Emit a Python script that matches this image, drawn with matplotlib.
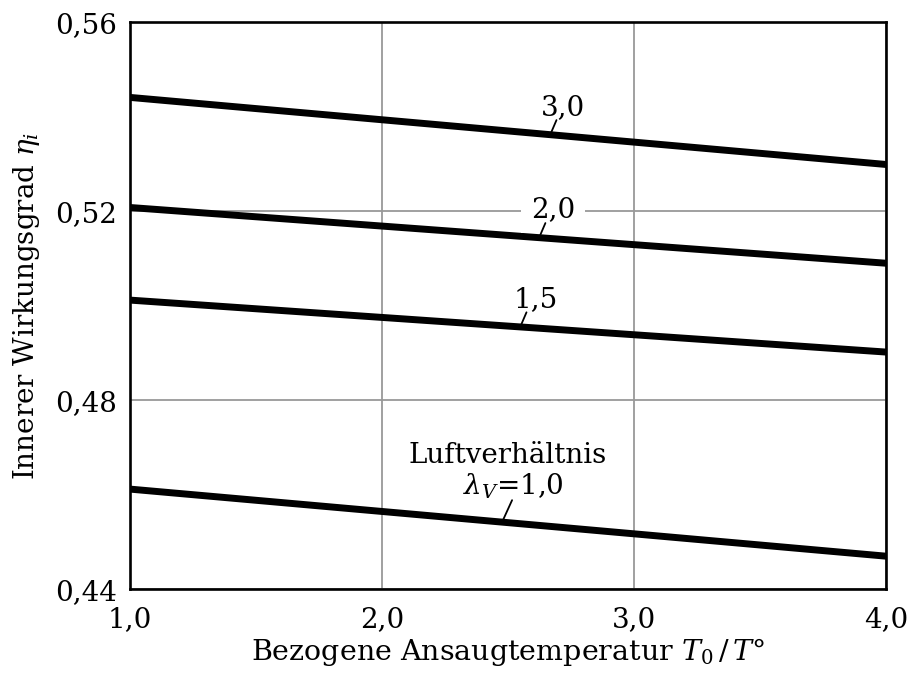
import numpy as np
import matplotlib.pyplot as plt

plt.rcParams['font.family'] = ['DejaVu Serif']
plt.rcParams['mathtext.fontset'] = 'dejavuserif'
plt.rcParams['axes.formatter.use_mathtext'] = True

# Bezogene Ansaugtemperatur T0/T° (Endpunkte der Geraden)
t_ratio = [1.0, 4.0]

# Innerer Wirkungsgrad je Luftverhältnis
eta_lam10 = [0.4612, 0.4470]
eta_lam15 = [0.5012, 0.4902]
eta_lam20 = [0.5208, 0.5090]
eta_lam30 = [0.5441, 0.5299]

x_ticks = [1.0, 2.0, 3.0, 4.0]
x_ticklabels = ['1,0', '2,0', '3,0', '4,0']
y_ticks = [0.44, 0.48, 0.52, 0.56]
y_ticklabels = ['0,44', '0,48', '0,52', '0,56']

fig = plt.figure(figsize=(9.09, 6.75), dpi=100)
ax = fig.add_axes([0.143, 0.127, 0.832, 0.840])

curves = [eta_lam10, eta_lam15, eta_lam20, eta_lam30]
for eta in curves:
    ax.plot(t_ratio, eta, color='black', lw=5.0, solid_capstyle='butt', zorder=3)

ax.set_xlim(1.0, 4.0)
ax.set_ylim(0.44, 0.56)
ax.set_xticks(x_ticks)
ax.set_xticklabels(x_ticklabels)
ax.set_yticks(y_ticks)
ax.set_yticklabels(y_ticklabels)
ax.tick_params(axis='x', length=0, pad=12, labelsize=20)
ax.tick_params(axis='y', length=0, pad=9, labelsize=20)
ax.grid(True, color='#999999', lw=1.3, zorder=1)
for sp in ax.spines.values():
    sp.set_linewidth(1.9)
    sp.set_zorder(4)

ax.set_xlabel(r'Bezogene Ansaugtemperatur $T_0\,/\,T$°', fontsize=20.5, labelpad=2)
ax.set_ylabel(r'Innerer Wirkungsgrad $\eta_i$', fontsize=20, labelpad=10)


def label_curve(eta, x0, text, dx, dy, lead, white=False):
    # kleiner Hinweisstrich von der Kurve zur Beschriftung
    y0 = np.interp(x0, t_ratio, eta)
    ax.annotate('', xy=(x0, y0), xytext=lead, textcoords='offset points',
                arrowprops=dict(arrowstyle='-', lw=1.3, color='black',
                                shrinkA=0, shrinkB=0), zorder=7)
    kw = {}
    if white:
        kw['bbox'] = dict(boxstyle='square,pad=0.35', fc='white', ec='none')
    ax.annotate(text, xy=(x0, y0), xytext=(dx, dy), textcoords='offset points',
                ha='center', va='baseline', fontsize=20, zorder=6, **kw)
    return y0


label_curve(eta_lam30, 2.667, '3,0', 9.4, 14.0, (4.5, 10.5))
label_curve(eta_lam20, 2.623, '2,0', 10.0, 14.6, (4.5, 10.5), white=True)
label_curve(eta_lam15, 2.548, '1,5', 10.8, 14.6, (4.5, 10.5))
y10 = label_curve(eta_lam10, 2.476, r'$\lambda_V$=1,0', 8.0, 19.6, (7.2, 15.8))
ax.annotate('Luftverhältnis', xy=(2.476, y10), xytext=(4.3, 42.5),
            textcoords='offset points', ha='center', va='baseline', fontsize=20, zorder=6)

fig.savefig('out.png', dpi=100)
